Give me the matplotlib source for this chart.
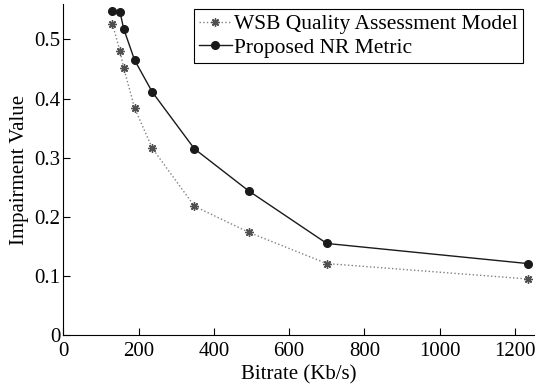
import matplotlib.pyplot as plt

plt.rcParams['font.family'] = ['Liberation Serif', 'DejaVu Serif']

bitrate = [130, 150, 160, 189, 236, 348, 492, 700, 1234]
wsb = [0.526, 0.481, 0.452, 0.384, 0.316, 0.218, 0.174, 0.121, 0.095]
proposed = [0.548, 0.547, 0.518, 0.465, 0.411, 0.315, 0.244, 0.155, 0.121]

xticks = [0, 200, 400, 600, 800, 1000, 1200]
yticks = [0, 0.1, 0.2, 0.3, 0.4, 0.5]
ytick_labels = ['0', '0.1', '0.2', '0.3', '0.4', '0.5']

fig = plt.figure(figsize=(5.38, 3.87), dpi=100)
ax = fig.add_axes([0.118, 0.134, 0.874, 0.856])

ax.plot(bitrate, wsb, linestyle=':', color='#808080', linewidth=1.0,
        marker=(8, 2, 0), markersize=6, markeredgecolor='#505050',
        markeredgewidth=1.0, label='WSB Quality Assessment Model')
ax.plot(bitrate, proposed, linestyle='-', color='#1a1a1a', linewidth=1.0,
        marker='o', markersize=5.5, markerfacecolor='#1a1a1a',
        label='Proposed NR Metric')

ax.set_xlim(0, 1250)
ax.set_ylim(0, 0.56)
ax.set_xticks(xticks)
ax.set_yticks(yticks)
ax.set_yticklabels(ytick_labels)
ax.tick_params(direction='in', length=5, labelsize=15, width=0.8)
ax.tick_params(axis='x', pad=5)
ax.tick_params(axis='y', pad=2)
ax.spines['top'].set_visible(False)
ax.spines['right'].set_visible(False)

ax.set_xlabel('Bitrate (Kb/s)', fontsize=15, labelpad=3)
ax.set_ylabel('Impairment Value', fontsize=15, labelpad=4)

leg = ax.legend(loc='upper right', fontsize=15.5, fancybox=False, framealpha=1,
                edgecolor='black', borderpad=0.25, borderaxespad=0,
                handlelength=1.5, handletextpad=0.1, labelspacing=0.15,
                bbox_to_anchor=(0.977, 0.985))
leg.get_frame().set_linewidth(0.8)

fig.savefig('out.png', dpi=100)
